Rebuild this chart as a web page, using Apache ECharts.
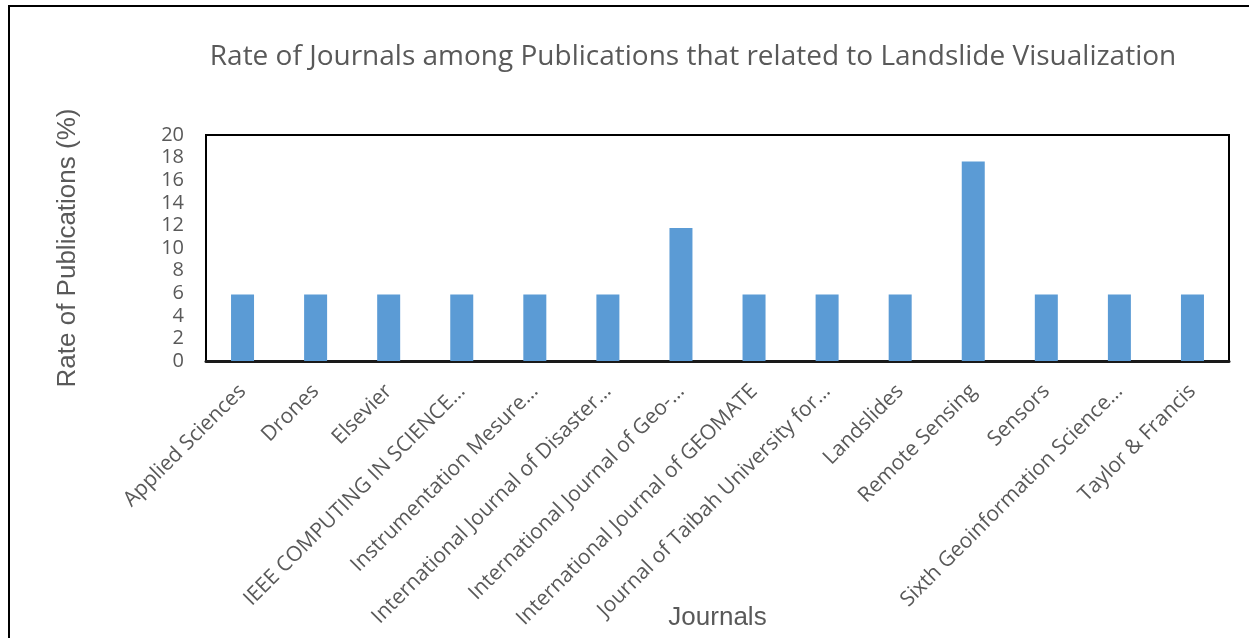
<!DOCTYPE html>
<html>
<head>
<meta charset="utf-8">
<script src="https://cdn.jsdelivr.net/npm/echarts@6/dist/echarts.min.js"></script>
<style>
html,body{margin:0;padding:0;background:#fff;}
#chart{width:1249px;height:638px;}
</style>
</head>
<body>
<div id="chart"></div>
<script>
const categories = [
  "Applied Sciences",
  "Drones",
  "Elsevier",
  "IEEE COMPUTING IN SCIENCE…",
  "Instrumentation Mesure…",
  "International Journal of Disaster…",
  "International Journal of Geo-…",
  "International Journal of GEOMATE",
  "Journal of Taibah University for…",
  "Landslides",
  "Remote Sensing",
  "Sensors",
  "Sixth Geoinformation Science…",
  "Taylor & Francis"
];
const rates = [5.88, 5.88, 5.88, 5.88, 5.88, 5.88, 11.76, 5.88, 5.88, 5.88, 17.65, 5.88, 5.88, 5.88];
const yTicks = [0, 2, 4, 6, 8, 10, 12, 14, 16, 18, 20];

const chart = echarts.init(document.getElementById('chart'), null, {renderer: 'canvas'});
chart.setOption({
  animation: false,
  backgroundColor: '#ffffff',
  title: {
    text: 'Rate of Journals among Publications that related to Landslide Visualization',
    left: 688, top: 38, textAlign: 'center',
    textStyle: {fontFamily: 'Open Sans', fontSize: 28, fontWeight: 'normal', color: '#595959'}
  },
  graphic: [{
    type: 'rect', silent: true,
    shape: {x: 9, y: 6, width: 1400, height: 800},
    style: {fill: 'none', stroke: '#000', lineWidth: 2}
  }],
  grid: {
    left: 206, top: 135, right: 20, bottom: 277,
    outerBoundsMode: 'none',
    containLabel: false,
    show: true, borderColor: '#000', borderWidth: 2, backgroundColor: 'transparent'
  },
  xAxis: {
    type: 'category',
    data: categories,
    name: 'Journals',
    nameLocation: 'middle',
    nameGap: 244,
    nameMoveOverlap: false,
    nameTextStyle: {fontFamily: 'Liberation Sans', fontSize: 26, color: '#595959'},
    axisLine: {show: true, lineStyle: {color: '#1a1a1a', width: 3}},
    axisTick: {show: false},
    axisLabel: {
      interval: 0, rotate: 45, margin: 27,
      fontFamily: 'Open Sans', fontSize: 21, color: '#595959'
    }
  },
  yAxis: {
    type: 'value',
    min: 0, max: 20, interval: 2,
    name: 'Rate of Publications (%)',
    nameLocation: 'middle',
    nameGap: 125,
    nameRotate: 90,
    nameMoveOverlap: false,
    nameTextStyle: {fontFamily: 'Liberation Sans', fontSize: 26, color: '#595959'},
    axisLine: {show: false},
    axisTick: {show: false},
    splitLine: {show: false},
    axisLabel: {
      margin: 22,
      fontFamily: 'Open Sans', fontSize: 20, color: '#595959',
      formatter: function (v) { return yTicks.indexOf(v) >= 0 ? String(v) : ''; }
    }
  },
  series: [{
    type: 'bar',
    data: rates,
    barWidth: 23,
    itemStyle: {color: '#5B9BD5'}
  }]
});
</script>
</body>
</html>
